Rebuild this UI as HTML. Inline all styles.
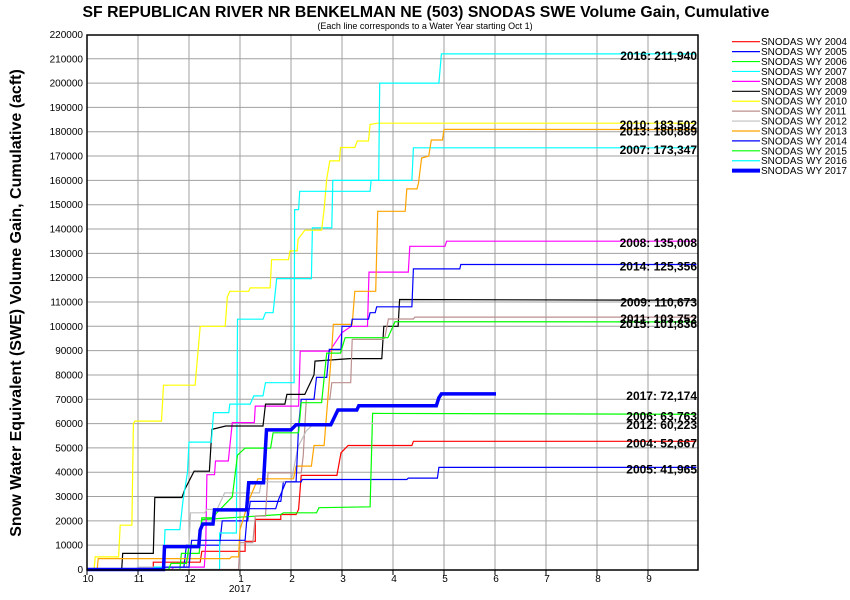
<!DOCTYPE html>
<html><head><meta charset="utf-8">
<style>
body{margin:0;background:#fff;}
svg{display:block;font-family:"Liberation Sans",sans-serif;}
</style></head>
<body>
<svg id="chart" width="850" height="600" viewBox="0 0 850 600" xmlns="http://www.w3.org/2000/svg">
<rect x="0" y="0" width="850" height="600" fill="#fff"/>
<text x="426" y="17" text-anchor="middle" font-size="15.8" font-weight="bold">SF REPUBLICAN RIVER NR BENKELMAN NE (503) SNODAS SWE Volume Gain, Cumulative</text>
<text x="425" y="29" text-anchor="middle" font-size="9">(Each line corresponds to a Water Year starting Oct 1)</text>
<text transform="translate(21,303) rotate(-90)" text-anchor="middle" font-size="16" font-weight="bold">Snow Water Equivalent (SWE) Volume Gain, Cumulative (acft)</text>
<g id="grid"></g>
<g id="series"></g>
<g id="labels"></g>
<rect x="87" y="35" width="611" height="535" fill="none" stroke="#000" stroke-width="1.5"/>
<g id="axes"></g>
<g id="legend"></g>
</svg>
<script>
const yTicks=[0,10,20,30,40,50,60,70,80,90,100,110,120,130,140,150,160,170,180,190,200,210,220];
const monthLabels=["10","11","12","1","2","3","4","5","6","7","8","9"];
const seriesNames=["SNODAS WY 2004","SNODAS WY 2005","SNODAS WY 2006","SNODAS WY 2007","SNODAS WY 2008","SNODAS WY 2009","SNODAS WY 2010","SNODAS WY 2011","SNODAS WY 2012","SNODAS WY 2013","SNODAS WY 2014","SNODAS WY 2015","SNODAS WY 2016","SNODAS WY 2017"];
const seriesColors=["#ff0000","#0000ff","#00ff00","#00ffff","#ff00ff","#000000","#ffff00","#bc8f8f","#c0c0c0","#ffa500","#0000ff","#00ff00","#00ffff","#0000ff"];
const endLabels=["2004: 52,667","2005: 41,965","2006: 63,763","2007: 173,347","2008: 135,008","2009: 110,673","2010: 183,502","2011: 103,752","2012: 60,223","2013: 180,889","2014: 125,356","2015: 101,836","2016: 211,940","2017: 72,174"];
// months since Oct 1, value in thousand acft
const wy2004=[[0,0],[1.3,0],[1.3,3],[2.22,3],[2.25,7.5],[3.1,7.5],[3.1,11.6],[3.3,11.6],[3.3,20.6],[3.8,20.6],[3.8,22.6],[4.1,22.6],[4.15,24.7],[4.2,38.7],[4.8,38.7],[4.9,38.7],[4.98,48],[5.12,51],[6.37,51],[6.4,52.7],[11.95,52.7]];
const wy2005=[[0,0],[1.0,0],[1.0,1],[1.9,1],[1.95,10],[2.6,10],[2.65,20],[3.15,20],[3.2,28],[3.8,28],[3.85,36],[4.2,36],[4.22,37],[6.27,37],[6.3,37.6],[6.87,37.6],[6.9,42],[11.95,42]];
const wy2006=[[0,0],[1.82,0],[1.85,6.6],[2.2,6.6],[2.25,20.5],[3.8,22.6],[3.85,23.3],[4.5,23.3],[4.55,25.4],[5.55,25.8],[5.6,64.2],[11.95,63.8]];
const wy2007=[[0,0],[2.6,0],[2.6,15],[2.93,15],[2.95,102.9],[3.45,102.9],[3.5,105.6],[3.65,105.6],[3.72,119.6],[4.4,119.6],[4.42,140.5],[4.8,140.5],[4.82,160],[6.37,160],[6.4,173.4],[11.95,173.4]];
const wy2008=[[0,0],[1.66,0],[1.7,1],[2.3,1],[2.33,11],[2.35,39],[2.5,39],[2.52,44.6],[2.77,44.6],[2.85,60.4],[3.28,60.4],[3.3,67.2],[4.15,67.2],[4.18,89.8],[4.78,89.8],[4.8,91.2],[5.0,97.4],[5.18,100],[5.5,100],[5.53,122.3],[6.3,122.3],[6.33,132.9],[7.02,132.9],[7.05,135],[11.95,135]];
const wy2009=[[0,0],[0.68,0],[0.7,6.6],[1.3,6.6],[1.33,29.6],[1.86,29.6],[1.92,33],[2.1,40.4],[2.4,40.4],[2.45,57.6],[2.72,59],[3.45,59],[3.5,68],[3.88,68],[3.92,72],[4.27,72],[4.45,80],[4.47,85.7],[5.15,86.7],[5.78,86.7],[5.82,100],[6.1,100],[6.13,111],[11.95,110.7]];
const wy2010=[[0,0],[0.14,0],[0.16,5.2],[0.62,5.2],[0.65,18.2],[0.88,18.2],[0.91,60],[0.94,61],[1.46,61],[1.5,75.8],[2.12,75.8],[2.22,100],[2.71,100],[2.75,112],[2.8,114.4],[3.17,114.4],[3.2,115.8],[3.59,115.8],[3.62,127.4],[3.95,127.4],[3.98,131],[4.12,131],[4.14,135.8],[4.27,139.5],[4.6,139.5],[4.65,148],[4.7,160.5],[4.76,168],[4.95,168],[4.97,173.5],[5.25,173.5],[5.3,176.2],[5.52,176.2],[5.55,183],[5.7,183.5],[11.95,183.5]];
const wy2011=[[0,0],[2.97,0],[3.0,11],[3.25,11],[3.3,22],[3.5,22],[3.55,39.7],[4.2,39.7],[4.24,46.6],[4.3,70],[4.76,70],[4.8,76.8],[5.17,76.8],[5.2,94.6],[5.81,94.6],[5.84,95.3],[5.91,103],[6.4,103],[6.43,103.8],[11.95,103.8]];
const wy2012=[[0,0],[0.95,0],[1.0,1],[1.95,1],[2.0,10],[2.03,23.3],[2.31,23.3],[2.35,24.7],[2.55,24.7],[2.7,31.5],[3.38,31.5],[3.42,36],[4.0,36],[4.14,50.5],[4.3,57],[4.45,60],[11.95,60.2]];
const wy2013=[[0,0],[0.2,0],[0.22,4.5],[2.8,4.5],[2.83,5.2],[2.97,5.2],[3.0,16.4],[3.18,28.8],[3.35,37.3],[4.05,37.3],[4.1,42.5],[4.4,42.5],[4.45,51],[4.65,51],[4.8,90.5],[4.83,100.8],[5.2,100.8],[5.25,114.4],[5.66,114.4],[5.7,147.3],[6.24,147.3],[6.27,156.5],[6.47,156.5],[6.5,158.9],[6.56,169.2],[6.7,170],[6.75,176.6],[6.97,176.6],[7.0,181],[11.95,180.9]];
const wy2014=[[0,0],[1.5,0],[1.5,1],[2.0,1],[2.05,12],[3.1,12],[3.15,25],[3.7,25],[3.75,28.5],[3.9,36],[4.1,36],[4.15,59],[4.2,70],[4.45,70],[4.5,79],[4.7,79],[4.75,90.5],[4.98,90.5],[5.0,100],[5.18,100],[5.2,102.9],[5.52,102.9],[5.55,105.6],[5.65,105.6],[5.68,108],[6.37,108],[6.4,123.6],[7.31,123.6],[7.33,125.4],[11.95,125.4]];
const wy2015=[[0,0],[1.6,0],[1.65,2.5],[1.95,2.5],[2.0,10],[2.2,10],[2.25,21.2],[2.45,21.2],[2.85,29.9],[2.95,47],[3.1,49.9],[3.6,49.9],[3.65,56.2],[4.15,56.2],[4.2,68.6],[4.6,68.6],[4.7,89],[4.97,89],[5.06,95.3],[5.9,95.3],[6.04,101.9],[11.95,101.8]];
const wy2016=[[0,0],[1.3,0],[1.32,1],[1.5,1],[1.53,16.4],[1.82,16.4],[1.88,28],[1.97,40],[2.0,52.4],[2.44,52.4],[2.48,64.5],[2.78,64.5],[2.8,68],[3.2,68],[3.27,71.4],[3.45,71.4],[3.5,76.8],[4.06,76.8],[4.07,148],[4.15,148],[4.17,155.5],[5.55,155.5],[5.57,160],[5.72,160],[5.74,200],[6.9,200],[6.95,212],[11.95,212]];
const wy2017=[[0,0],[1.5,0],[1.52,9.4],[2.19,9.4],[2.22,16.2],[2.27,18.7],[2.47,18.7],[2.5,24.5],[3.13,24.5],[3.17,35.7],[3.46,35.7],[3.52,57.4],[4.0,57.4],[4.1,59.5],[4.78,59.5],[4.92,65.6],[5.29,65.6],[5.33,67.3],[6.85,67.3],[6.9,70.7],[6.95,72.2],[8.02,72.2]];
const allSeries=[wy2004,wy2005,wy2006,wy2007,wy2008,wy2009,wy2010,wy2011,wy2012,wy2013,wy2014,wy2015,wy2016,wy2017];

const NS="http://www.w3.org/2000/svg";
function xS(m){return 87+m*51;}
function yS(v){return 569.5-v*2.432;}
function mk(tag,attrs,parent){const e=document.createElementNS(NS,tag);for(const k in attrs)e.setAttribute(k,attrs[k]);parent.appendChild(e);return e;}
const grid=document.getElementById('grid'),axes=document.getElementById('axes'),ser=document.getElementById('series'),lab=document.getElementById('labels'),leg=document.getElementById('legend');
yTicks.forEach(t=>{
  if(t>0&&t<220){const l=mk('line',{x1:87,x2:698,y1:yS(t),y2:yS(t),stroke:'#a0a0a0','stroke-width':1},grid);
  
  }
  const tx=mk('text',{x:83,y:yS(t)+3.5,'text-anchor':'end','font-size':10},axes);
  tx.textContent=(t*1000).toString();
  
  
});
monthLabels.forEach((lb,i)=>{
  const x=xS(i);
  if(i>0){const l=mk('line',{x1:x,x2:x,y1:35,y2:570,stroke:'#a0a0a0','stroke-width':1},grid);
  
  }
  const tk=mk('line',{x1:x,x2:x,y1:570,y2:575,stroke:'#000','stroke-width':1},axes);
  
  
  const tx=mk('text',{x:x+1,y:582,'text-anchor':'middle','font-size':10},axes);
  tx.textContent=lb;
  
  
});
const yr=mk('text',{x:xS(3),y:592,'text-anchor':'middle','font-size':10},axes);
yr.textContent='2017';



allSeries.forEach((d,i)=>{
  const p=mk('polyline',{points:d.map(q=>xS(q[0]).toFixed(1)+','+yS(q[1]).toFixed(1)).join(' '),fill:'none',stroke:seriesColors[i],'stroke-width':i===13?3.5:1.2},ser);
  
  
  const last=d[d.length-1];
  const t=mk('text',{x:697,y:yS(last[1])+6,'text-anchor':'end','font-size':12,'font-weight':'bold'},lab);
  t.textContent=endLabels[i];
  
  
  const ly=41.7+i*9.92;
  const ll=mk('line',{x1:732,x2:760,y1:ly,y2:ly,stroke:seriesColors[i],'stroke-width':i===13?4:1.2},leg);
  
  
  const lt=mk('text',{x:761,y:ly+3.5,'font-size':10},leg);
  lt.textContent=seriesNames[i];
  
  
});
</script>
</body></html>
